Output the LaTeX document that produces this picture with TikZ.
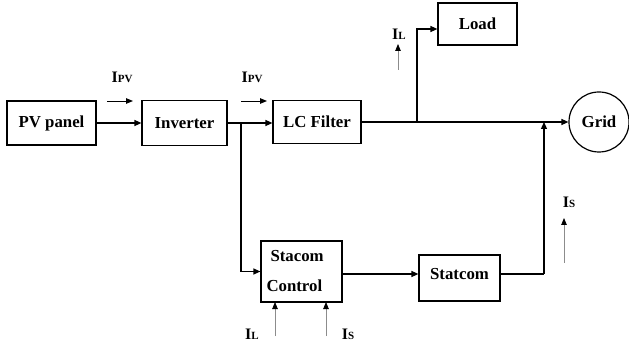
\documentclass[tikz,border=0pt]{standalone}
\usepackage{fontspec}
\setmainfont{Liberation Serif}
\usetikzlibrary{arrows.meta}
\begin{document}
\begin{tikzpicture}[x=1pt,y=-1pt,
  blk/.style={draw,line width=1.2pt,inner sep=0pt,font=\fontsize{16.8}{19}\selectfont\bfseries},
  conn/.style={line width=1.2pt,-{Triangle[length=7pt,width=6pt]}},
  wire/.style={line width=1.2pt},
  cur/.style={line width=0.8pt,draw=black!45,-{Triangle[length=7pt,width=5.5pt,color=black]}},
  hcur/.style={line width=0.9pt,-{Triangle[length=7pt,width=5.5pt]}},
  lbl/.style={inner sep=0pt,font=\bfseries}]
\useasboundingbox (0,0) rectangle (629,347);
\newcommand{\cI}[1]{{\fontsize{16}{16}\selectfont I}{\fontsize{11}{11}\selectfont #1}}
% blocks
\node[blk,minimum width=89pt,minimum height=44pt] (pv) at (51.5,123) {PV panel};
\node[blk,minimum width=85pt,minimum height=45pt] (inv) at (184.5,123) {Inverter};
\node[blk,minimum width=88pt,minimum height=43pt] (lc) at (317,122) {LC Filter};
\node[blk,minimum width=79pt,minimum height=42pt] (load) at (477.5,24) {Load};
\node[blk,circle,minimum size=60pt] (grid) at (599,122) {Grid};
\node[blk,minimum width=81pt,minimum height=61pt,text width=70pt,align=left] (ctrl) at (301.5,271.5) {\hspace{4pt}Stacom\\[11pt]Control};
\node[blk,minimum width=81pt,minimum height=46pt] (stat) at (459.5,278) {\raisebox{8pt}{Statcom}};
% junction coordinates
\coordinate (j0) at (241,123);
\coordinate (j1) at (417,122);
\coordinate (j2) at (544,122);
\coordinate (j3) at (544,274);
% connectors
\draw[conn] (pv) -- (inv);
\draw[wire] (inv.east) -- (j0);
\draw[conn] (j0) -- (lc.west |- j0);
\draw[conn] (j0) |- (ctrl.west);
\draw[wire] (lc.east) -- (j1);
\draw[conn] (j1) |- ([yshift=-5pt]load.west);
\draw[conn] (j1) -- (grid.west);
\draw[conn] (ctrl.east |- 0,274) -- (stat.west |- 0,274);
\draw[wire] (stat.east |- j3) -- (j3);
\draw[conn] (j3) -- (j2);
% current indicators
\coordinate (a1s) at (107,101); \coordinate (a1e) at (133,101);
\coordinate (a2s) at (241,101); \coordinate (a2e) at (267,101);
\coordinate (a3s) at (398,70);  \coordinate (a3e) at (398,44);
\coordinate (a4s) at (564,263); \coordinate (a4e) at (564,218);
\coordinate (a5s) at (275,336); \coordinate (a5e) at (275,302);
\coordinate (a6s) at (326,336); \coordinate (a6e) at (326,302);
\draw[hcur] (a1s) -- (a1e);
\draw[hcur] (a2s) -- (a2e);
\draw[cur] (a3s) -- (a3e);
\draw[cur] (a4s) -- (a4e);
\draw[cur] (a5s) -- (a5e);
\draw[cur] (a6s) -- (a6e);
\node[lbl] (l1) at (122,77) {\cI{PV}};
\node[lbl] (l2) at (252,77) {\cI{PV}};
\node[lbl] (l3) at (399,34) {\cI{L}};
\node[lbl] (l4) at (569,202) {\cI{S}};
\node[lbl] (l5) at (252,334) {\cI{L}};
\node[lbl] (l6) at (348,334) {\cI{S}};
\end{tikzpicture}
\end{document}
